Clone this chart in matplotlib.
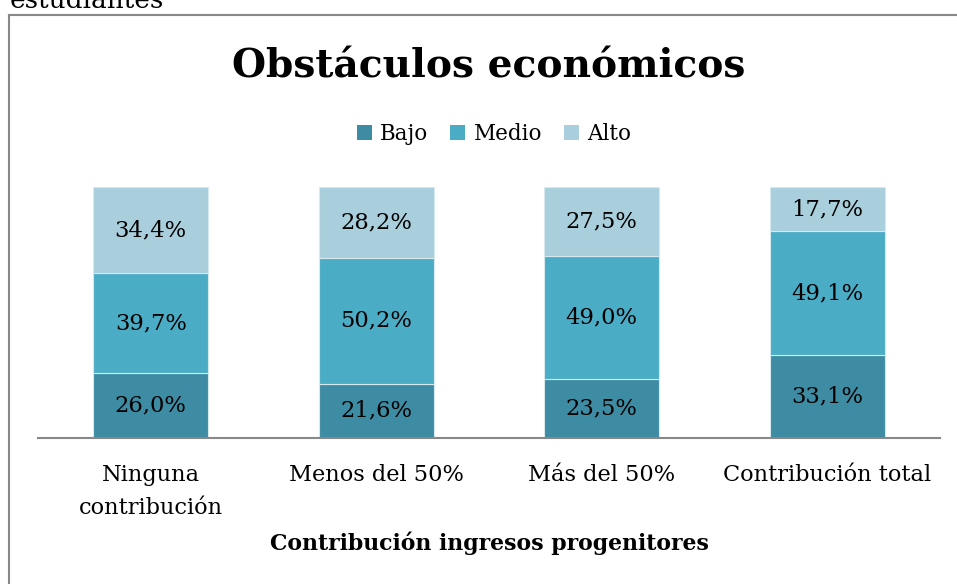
import matplotlib
matplotlib.use('Agg')
import matplotlib.pyplot as plt
from matplotlib.lines import Line2D
from matplotlib.patches import Patch

plt.rcParams['font.family'] = ['DejaVu Serif']

categories = ['Ninguna\ncontribución', 'Menos del 50%', 'Más del 50%', 'Contribución total']
bajo = [26.0, 21.6, 23.5, 33.1]
medio = [39.7, 50.2, 49.0, 49.1]
alto = [34.4, 28.2, 27.5, 17.7]
series = [('Bajo', bajo, '#3d8ca3'), ('Medio', medio, '#4bacc6'), ('Alto', alto, '#a9cfdc')]

W, H = 957, 584
fig = plt.figure(figsize=(W / 100, H / 100), dpi=100)
ax = fig.add_axes([38 / W, 1 - 438 / H, (940 - 38) / W, (438 - 187) / H])

x = range(len(categories))
bottom = [0.0] * len(categories)
for name, vals, color in series:
    tot = [b + m + a for b, m, a in zip(bajo, medio, alto)]
    frac = [v / t for v, t in zip(vals, tot)]
    ax.bar(x, frac, bottom=bottom, width=0.51, color=color, edgecolor='#d6e9ef', linewidth=0.8)
    for i, (f, b, v) in enumerate(zip(frac, bottom, vals)):
        ax.text(i, b + f / 2, f'{v:.1f}%'.replace('.', ','), ha='center', va='center', fontsize=16.3)
    bottom = [b + f for b, f in zip(bottom, frac)]

ax.set_xlim(-0.5, 3.5)
ax.set_ylim(0, 1)
for s in ['top', 'right', 'left']:
    ax.spines[s].set_visible(False)
ax.spines['bottom'].set_color('#888888')
ax.spines['bottom'].set_linewidth(1.5)
ax.set_yticks([])
ax.set_xticks(list(x))
ax.set_xticklabels(categories, fontsize=16.2, linespacing=1.65, va='top')
ax.tick_params(axis='x', length=0, pad=19)
ax.set_xlabel('Contribución ingresos progenitores', fontsize=15.8, fontweight='bold', labelpad=9)

fig.text(489 / W, 1 - 66 / H, 'Obstáculos económicos', ha='center', va='center',
         fontsize=28.2, fontweight='bold')

handles = [Patch(facecolor=c, edgecolor='none') for _, _, c in series]
fig.legend(handles, [n for n, _, _ in series], loc='center', bbox_to_anchor=(494 / W, 1 - 134 / H),
           ncol=3, frameon=False, fontsize=15.5, handlelength=0.7, handleheight=0.7,
           handletextpad=0.4, columnspacing=1.0)

# chart frame (cut off at right and bottom)
fig.add_artist(Line2D([8.5 / W, 8.5 / W], [1 - 15 / H, 0], color='#888888', lw=1.5))
fig.add_artist(Line2D([8.5 / W, 1], [1 - 15 / H, 1 - 15 / H], color='#888888', lw=1.5))

fig.text(10 / W, 1 - 1 / H, 'estudiantes', ha='left', va='center', fontsize=19)

fig.savefig('out.png', dpi=100)
